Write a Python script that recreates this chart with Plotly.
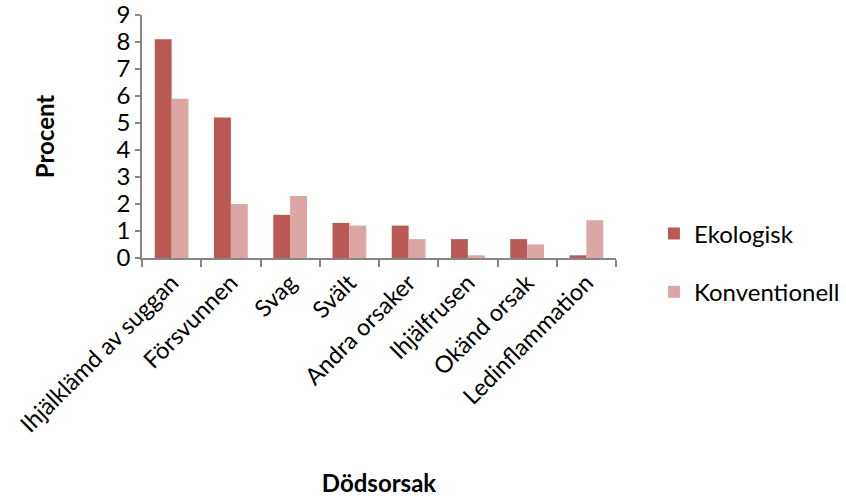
import plotly.graph_objects as go

# Dödsorsaker för smågrisar, andel i procent
kategorier = ["Ihjälklämd av suggan", "Försvunnen", "Svag", "Svält",
              "Andra orsaker", "Ihjälfrusen", "Okänd orsak", "Ledinflammation"]
ekologisk = [8.1, 5.2, 1.6, 1.3, 1.2, 0.7, 0.7, 0.1]
konventionell = [5.9, 2.0, 2.3, 1.2, 0.7, 0.1, 0.5, 1.4]
y_ticks = [0, 1, 2, 3, 4, 5, 6, 7, 8, 9]

FONT = "Lato, Open Sans, sans-serif"
AXIS = "#868686"

fig = go.Figure()
fig.add_trace(go.Bar(x=kategorier, y=ekologisk, name="Ekologisk",
                     marker=dict(color="#BA5A55", line=dict(width=0)),
                     legendgroup="a"))
fig.add_trace(go.Bar(x=kategorier, y=konventionell, name="Konventionell",
                     marker=dict(color="#DCA6A4", line=dict(width=0)),
                     legendgroup="b"))

fig.update_layout(
    width=846, height=497,
    margin=dict(l=142, r=230, t=15, b=239, autoexpand=False),
    paper_bgcolor="white", plot_bgcolor="white",
    barmode="group", bargap=0.43, bargroupgap=0,
    font=dict(family=FONT, size=24, color="black"),
    legend=dict(x=1.08, y=-0.02, xanchor="left", yanchor="middle",
                font=dict(size=24), tracegroupgap=24,
                itemsizing="constant"),
    xaxis=dict(
        automargin=False,
        tickangle=-45, showline=True, linecolor=AXIS, linewidth=1.5,
        ticks="outside", ticklen=7, tickcolor=AXIS, tickwidth=1.5,
        tickson="boundaries", showgrid=False,
        tickfont=dict(size=23.5),
        title=dict(text="<b>Dödsorsak</b>", font=dict(size=24), standoff=40),
    ),
    yaxis=dict(
        automargin=False, ticklabeloverflow="allow",
        range=[0, 9], tickvals=y_ticks, showline=True, linecolor=AXIS,
        linewidth=1.5, ticks="outside", ticklen=5, tickcolor=AXIS,
        tickwidth=1.5, showgrid=False, zeroline=False,
        tickfont=dict(size=24),
        title=dict(text="<b>Procent</b>", font=dict(size=24), standoff=55),
    ),
)

fig.write_html("out.html")
